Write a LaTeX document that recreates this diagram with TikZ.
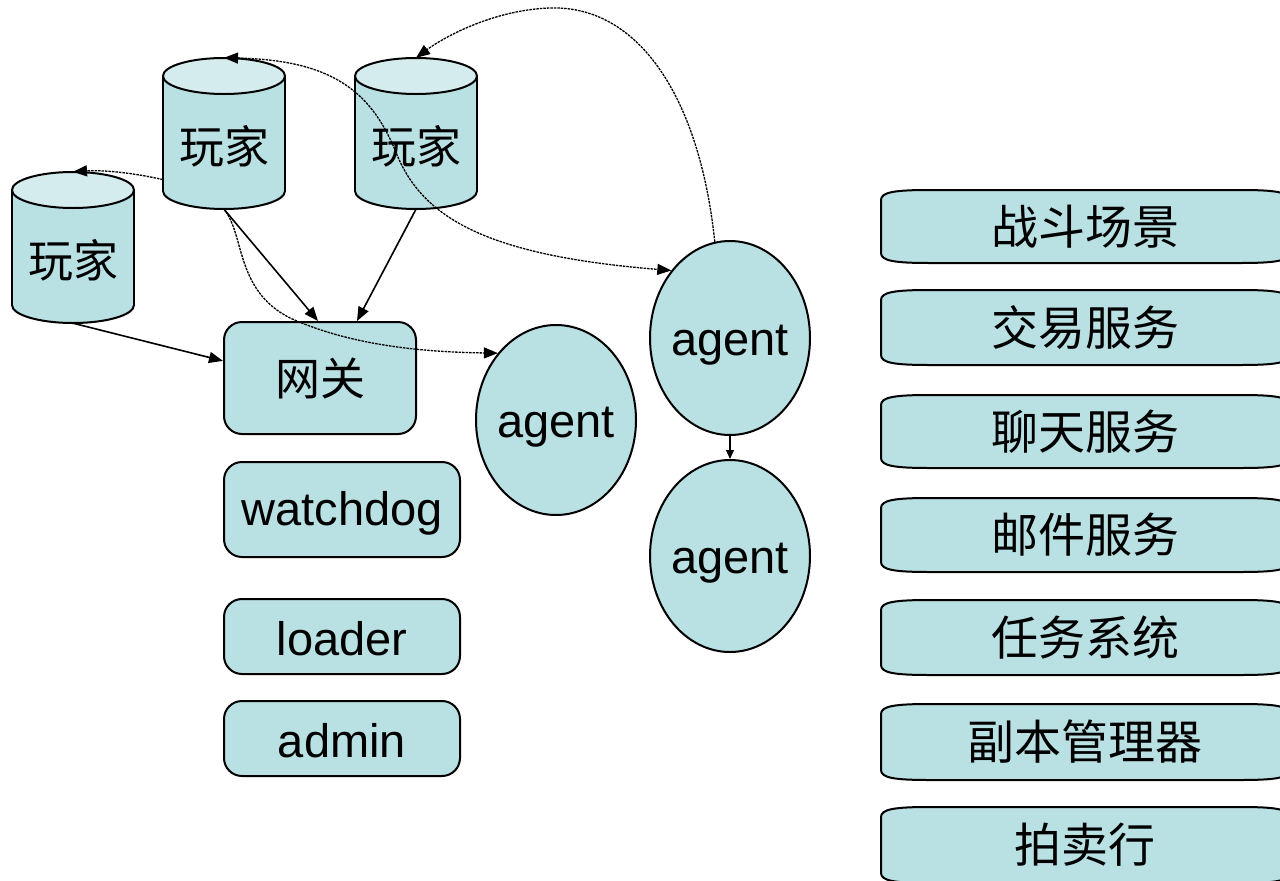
\documentclass[tikz,border=0pt]{standalone}
\usepackage{fontspec}
\setmainfont{Liberation Sans}
\newfontfamily\cjk{Noto Sans CJK SC}
\usetikzlibrary{arrows.meta,shapes.geometric}

\definecolor{bodyfill}{RGB}{185,224,227}
\definecolor{capfill}{RGB}{213,236,238}

\tikzset{
  shapeline/.style={draw=black, line width=2pt},
  store/.style={minimum width=122pt, inner sep=0pt},
  storetext/.style={inner sep=0pt, font=\cjk\fontsize{45}{45}\selectfont},
  server/.style={shapeline, fill=bodyfill, rounded corners=18pt, inner sep=0pt,
    font=\fontsize{47}{47}\selectfont},
  cjkserver/.style={server, font=\cjk\fontsize{45}{45}\selectfont},
  agentnode/.style={shapeline, fill=bodyfill, ellipse, inner sep=0pt,
    minimum width=160pt, font=\fontsize{47}{47}\selectfont},
  servicetext/.style={inner sep=0pt, font=\cjk\fontsize{47}{47}\selectfont},
  link/.style={line width=1.6pt, -{Triangle[length=14pt,width=11pt]}},
  smalllink/.style={line width=1.1pt, -{Triangle[length=9pt,width=8pt]}},
  msgline/.style={line width=1.3pt, dash pattern=on 2.5pt off 1pt},
  msg/.style={msgline, -{Triangle[length=14pt,width=11pt]}},
  twoway/.style={msgline, {Triangle[length=14pt,width=11pt]}-{Triangle[length=14pt,width=11pt]}},
}

% text set a little lower than the centre of its node, same reported size
\newcommand\lowered[2]{\raisebox{-#1}[\height][\depth]{#2}}
% label kept in a zero-width box so the ellipse keeps its given size
\newcommand\agentlabel{\makebox[0pt]{\lowered{7pt}{agent}}}

% player database drawn as a cylinder: name, centre x, top y, bottom y
\newcommand\playerstore[4]{%
  \filldraw[shapeline, fill=bodyfill] ({#2},{#4-18}) ellipse [x radius=61pt, y radius=18pt];
  \fill[bodyfill] ({#2-61},{#3+18}) rectangle ({#2+61},{#4-18});
  \draw[line width=2pt] ({#2-61},{#3+18}) -- ({#2-61},{#4-18})
                        ({#2+61},{#3+18}) -- ({#2+61},{#4-18});
  \filldraw[shapeline, fill=capfill] ({#2},{#3+18}) ellipse [x radius=61pt, y radius=18pt];
  \node[store, minimum height={(#4-#3)*1pt}] (#1) at ({#2},{(#3+#4)/2}) {};
  \node[storetext] (#1t) at ({#2},{(#3+#4)/2+13}) {玩家};
}

% service box on the right: name, top y, bottom y, label
\newcommand\servicebox[4]{%
  \filldraw[shapeline, fill=bodyfill]
    (881,{#2+10}) .. controls (881,{#2+2}) and (895,{#2}) .. (930,{#2})
    -- (1240,{#2}) .. controls (1275,{#2}) and (1289,{#2+2}) .. (1289,{#2+10})
    -- (1289,{#3-10}) .. controls (1289,{#3-2}) and (1275,{#3}) .. (1240,{#3})
    -- (930,{#3}) .. controls (895,{#3}) and (881,{#3-2}) .. (881,{#3-10}) -- cycle;
  \node[servicetext] (#1) at (1085,{(#2+#3)/2}) {#4};
}

\begin{document}
\begin{tikzpicture}[x=1pt, y=-1pt]
  \useasboundingbox (0,0) rectangle (1280,881);

  % players
  \playerstore{c1}{73}{172}{323}
  \playerstore{c2}{224}{58}{209}
  \playerstore{c3}{416}{58}{209}

  % gateway and helper processes
  \node[cjkserver, minimum width=192pt, minimum height=112pt] (gw) at (320,378) {网关};
  \node[server, minimum width=236pt, minimum height=95pt] (wd) at (342,509.5) {\lowered{4pt}{watchdog}};
  \node[server, minimum width=236pt, minimum height=75pt] (ld) at (342,636.5) {\lowered{2pt}{loader}};
  \node[server, minimum width=236pt, minimum height=75pt] (ad) at (342,738.5) {\lowered{2pt}{admin}};

  % agents
  \node[agentnode, minimum height=190pt] (a1) at (556,420) {\agentlabel};
  \node[agentnode, minimum height=194pt] (a2) at (730,338) {\agentlabel};
  \node[agentnode, minimum height=192pt] (a3) at (730,556) {\agentlabel};

  % game services
  \servicebox{s1}{190}{263}{战斗场景}
  \servicebox{s2}{290}{365}{交易服务}
  \servicebox{s3}{395}{468}{聊天服务}
  \servicebox{s4}{498}{572}{邮件服务}
  \servicebox{s5}{600}{675}{任务系统}
  \servicebox{s6}{704}{780}{副本管理器}
  \servicebox{s7}{807}{883}{拍卖行}

  % connections to the gateway
  \draw[link] (c1.south) -- (gw.170);
  \draw[link] (c2.south) -- ([xshift=-2pt]gw.north);
  \draw[link] (c3.south) -- (gw.57);
  \draw[smalllink] (a2.south) -- (a3.north);

  % messages between players and agents
  \draw[msg] (c2.south) .. controls (245,235) and (235,290) .. (290,318)
             .. controls (350,345) and (420,352) .. (a1.131);
  \draw[msg] (c2.217) .. controls (130,172) and (100,170) .. (c1.north);
  \draw[msg] (a2.99) .. controls (700,100) and (640,5) .. (550,8)
             .. controls (490,10) and (440,40) .. (c3.north);
  \draw[twoway] (c2.north) .. controls (330,60) and (370,90) .. (395,150)
             .. controls (420,215) and (480,255) .. (a2.131);
\end{tikzpicture}
\end{document}
